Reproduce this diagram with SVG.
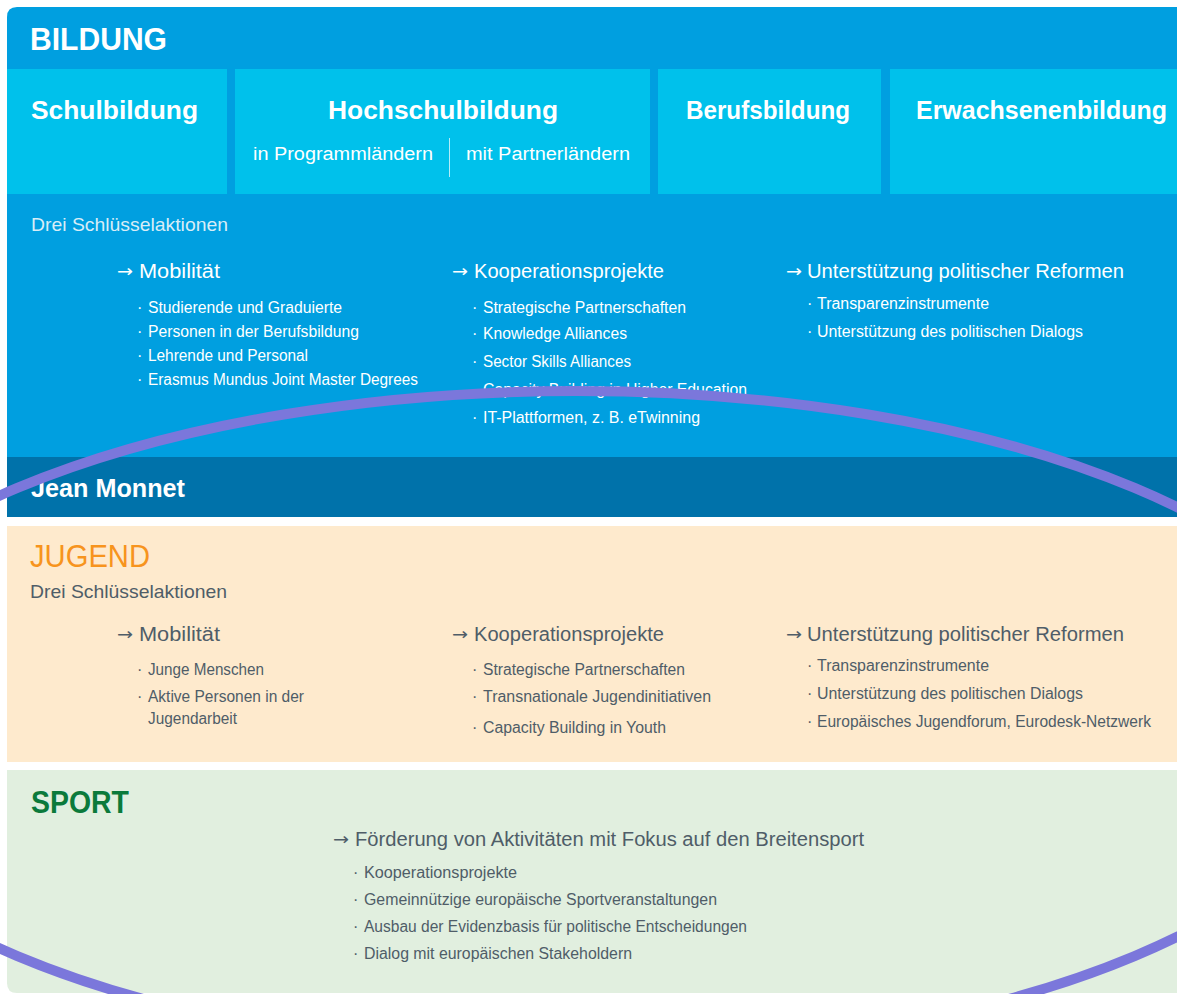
<svg xmlns="http://www.w3.org/2000/svg" width="1177" height="994" viewBox="0 0 1177 994">
<style>
text{font-family:"Liberation Sans Narrow","Liberation Sans",Arial,sans-serif}
.title{font-size:32px}
.tile{font-size:25px;font-weight:bold;fill:#ffffff}
.sub{font-size:18px;fill:#ffffff}
.lead{font-size:19px}
.head{font-size:20px}
.arr{font-size:17px;font-family:"DejaVu Sans",sans-serif}
.item{font-size:16px}
.wt{fill:#ffffff}
.lt{fill:#d8edf7}
.dk{fill:#4f5d68}
.blk{fill:#00c1eb}
</style>
<rect x="0" y="0" width="1177" height="994" fill="#ffffff"/>

<g id="bildung">
  <path d="M7 17 Q7 7 17 7 L1177 7 L1177 457 L7 457 Z" fill="#009fe0"/>
  <text class="title wt" x="30" y="50" font-weight="bold" textLength="137" lengthAdjust="spacingAndGlyphs">BILDUNG</text>
</g>

<g id="schulbildung">
  <rect class="blk" x="7" y="69" width="220" height="125"/>
  <text class="tile" x="31" y="119" textLength="167" lengthAdjust="spacingAndGlyphs">Schulbildung</text>
</g>

<g id="hochschulbildung">
  <rect class="blk" x="235" y="69" width="415" height="125"/>
  <text class="tile" x="328" y="119" textLength="230" lengthAdjust="spacingAndGlyphs">Hochschulbildung</text>
  <text class="sub" x="253" y="160" textLength="180" lengthAdjust="spacingAndGlyphs">in Programmländern</text>
  <line x1="449.5" y1="138" x2="449.5" y2="177" stroke="#ffffff" stroke-opacity="0.7" stroke-width="1"/>
  <text class="sub" x="466" y="160" textLength="164" lengthAdjust="spacingAndGlyphs">mit Partnerländern</text>
</g>

<g id="berufsbildung">
  <rect class="blk" x="658" y="69" width="223" height="125"/>
  <text class="tile" x="686" y="119" textLength="164" lengthAdjust="spacingAndGlyphs">Berufsbildung</text>
</g>

<g id="erwachsenenbildung">
  <rect class="blk" x="890" y="69" width="287" height="125"/>
  <text class="tile" x="916" y="119" textLength="251" lengthAdjust="spacingAndGlyphs">Erwachsenenbildung</text>
</g>

<g id="bildung-aktionen">
  <text class="lead lt" x="31" y="231" textLength="197" lengthAdjust="spacingAndGlyphs">Drei Schlüsselaktionen</text>

  <text class="arr wt" x="117" y="277" textLength="16" lengthAdjust="spacingAndGlyphs">→</text>
  <text class="head wt" x="139" y="278" textLength="81" lengthAdjust="spacingAndGlyphs">Mobilität</text>
  <g class="item wt">
    <text x="137" y="313">·</text><text x="148" y="313" textLength="194" lengthAdjust="spacingAndGlyphs">Studierende und Graduierte</text>
    <text x="137" y="337">·</text><text x="148" y="337" textLength="211" lengthAdjust="spacingAndGlyphs">Personen in der Berufsbildung</text>
    <text x="137" y="361">·</text><text x="148" y="361" textLength="160" lengthAdjust="spacingAndGlyphs">Lehrende und Personal</text>
    <text x="137" y="385">·</text><text x="148" y="385" textLength="270" lengthAdjust="spacingAndGlyphs">Erasmus Mundus Joint Master Degrees</text>
  </g>

  <text class="arr wt" x="452" y="277" textLength="16" lengthAdjust="spacingAndGlyphs">→</text>
  <text class="head wt" x="474" y="278" textLength="190" lengthAdjust="spacingAndGlyphs">Kooperationsprojekte</text>
  <g class="item wt">
    <text x="472" y="313">·</text><text x="483" y="313" textLength="203" lengthAdjust="spacingAndGlyphs">Strategische Partnerschaften</text>
    <text x="472" y="339">·</text><text x="483" y="339" textLength="144" lengthAdjust="spacingAndGlyphs">Knowledge Alliances</text>
    <text x="472" y="367">·</text><text x="483" y="367" textLength="148" lengthAdjust="spacingAndGlyphs">Sector Skills Alliances</text>
    <text x="472" y="395">·</text><text x="483" y="395" textLength="264" lengthAdjust="spacingAndGlyphs">Capacity Building in Higher Education</text>
    <text x="472" y="423">·</text><text x="483" y="423" textLength="217" lengthAdjust="spacingAndGlyphs">IT-Plattformen, z. B. eTwinning</text>
  </g>

  <text class="arr wt" x="786" y="277" textLength="16" lengthAdjust="spacingAndGlyphs">→</text>
  <text class="head wt" x="807" y="278" textLength="317" lengthAdjust="spacingAndGlyphs">Unterstützung politischer Reformen</text>
  <g class="item wt">
    <text x="807" y="309">·</text><text x="817" y="309" textLength="172" lengthAdjust="spacingAndGlyphs">Transparenzinstrumente</text>
    <text x="807" y="337">·</text><text x="817" y="337" textLength="266" lengthAdjust="spacingAndGlyphs">Unterstützung des politischen Dialogs</text>
  </g>
</g>

<g id="jean-monnet">
  <rect x="7" y="457" width="1170" height="60" fill="#0072aa"/>
  <text class="tile" x="31" y="497" textLength="154" lengthAdjust="spacingAndGlyphs">Jean Monnet</text>
</g>

<g id="jugend">
  <rect x="7" y="526" width="1170" height="236" fill="#feeacd"/>
  <text class="title" x="30" y="567" fill="#f7941d" textLength="120" lengthAdjust="spacingAndGlyphs">JUGEND</text>
  <text class="lead dk" x="30" y="598" textLength="197" lengthAdjust="spacingAndGlyphs">Drei Schlüsselaktionen</text>

  <text class="arr dk" x="117" y="640" textLength="16" lengthAdjust="spacingAndGlyphs">→</text>
  <text class="head dk" x="139" y="641" textLength="81" lengthAdjust="spacingAndGlyphs">Mobilität</text>
  <g class="item dk">
    <text x="137" y="675">·</text><text x="148" y="675" textLength="116" lengthAdjust="spacingAndGlyphs">Junge Menschen</text>
    <text x="137" y="702">·</text><text x="148" y="702" textLength="156" lengthAdjust="spacingAndGlyphs">Aktive Personen in der</text>
    <text x="148" y="724" textLength="89" lengthAdjust="spacingAndGlyphs">Jugendarbeit</text>
  </g>

  <text class="arr dk" x="452" y="640" textLength="16" lengthAdjust="spacingAndGlyphs">→</text>
  <text class="head dk" x="474" y="641" textLength="190" lengthAdjust="spacingAndGlyphs">Kooperationsprojekte</text>
  <g class="item dk">
    <text x="472" y="675">·</text><text x="483" y="675" textLength="202" lengthAdjust="spacingAndGlyphs">Strategische Partnerschaften</text>
    <text x="472" y="702">·</text><text x="483" y="702" textLength="228" lengthAdjust="spacingAndGlyphs">Transnationale Jugendinitiativen</text>
    <text x="472" y="733">·</text><text x="483" y="733" textLength="183" lengthAdjust="spacingAndGlyphs">Capacity Building in Youth</text>
  </g>

  <text class="arr dk" x="786" y="640" textLength="16" lengthAdjust="spacingAndGlyphs">→</text>
  <text class="head dk" x="807" y="641" textLength="317" lengthAdjust="spacingAndGlyphs">Unterstützung politischer Reformen</text>
  <g class="item dk">
    <text x="807" y="671">·</text><text x="817" y="671" textLength="172" lengthAdjust="spacingAndGlyphs">Transparenzinstrumente</text>
    <text x="807" y="699">·</text><text x="817" y="699" textLength="266" lengthAdjust="spacingAndGlyphs">Unterstützung des politischen Dialogs</text>
    <text x="807" y="727">·</text><text x="817" y="727" textLength="334" lengthAdjust="spacingAndGlyphs">Europäisches Jugendforum, Eurodesk-Netzwerk</text>
  </g>
</g>

<g id="sport">
  <path d="M7 770 L1177 770 L1177 993 L17 993 Q7 993 7 983 Z" fill="#e1efdf"/>
  <text class="title" x="31" y="813" fill="#0b7a3b" font-weight="bold" textLength="98" lengthAdjust="spacingAndGlyphs">SPORT</text>
  <text class="arr dk" x="333" y="845" textLength="16" lengthAdjust="spacingAndGlyphs">→</text>
  <text class="head dk" x="355" y="846" textLength="509" lengthAdjust="spacingAndGlyphs">Förderung von Aktivitäten mit Fokus auf den Breitensport</text>
  <g class="item dk">
    <text x="353" y="878">·</text><text x="364" y="878" textLength="153" lengthAdjust="spacingAndGlyphs">Kooperationsprojekte</text>
    <text x="353" y="905">·</text><text x="364" y="905" textLength="353" lengthAdjust="spacingAndGlyphs">Gemeinnützige europäische Sportveranstaltungen</text>
    <text x="353" y="932">·</text><text x="364" y="932" textLength="383" lengthAdjust="spacingAndGlyphs">Ausbau der Evidenzbasis für politische Entscheidungen</text>
    <text x="353" y="959">·</text><text x="364" y="959" textLength="268" lengthAdjust="spacingAndGlyphs">Dialog mit europäischen Stakeholdern</text>
  </g>
</g>

<g id="connectors">
  <ellipse cx="576" cy="722" rx="790" ry="331" fill="none" stroke="#7b77db" stroke-width="10"/>
</g>
</svg>
